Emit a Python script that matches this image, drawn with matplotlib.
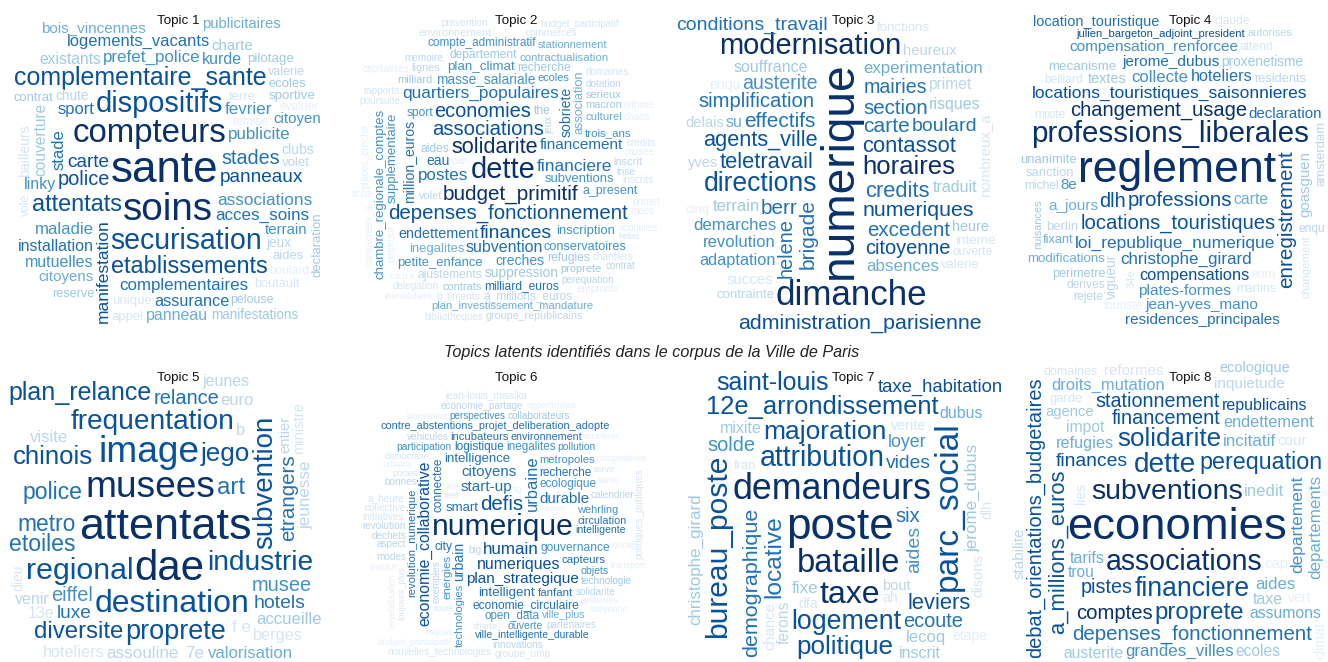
import numpy as np
import matplotlib
matplotlib.use("Agg")
import matplotlib.pyplot as plt
from matplotlib.font_manager import FontProperties

# ---------------------------------------------------------------- data
# weight = topic-word weight (drives text size), shade = specificity level 1..9 (drives colour)
T1_WORDS = ['sante', 'soins', 'compteurs', 'dispositifs', 'securisation', 'complementaire_sante',
            'etablissements', 'attentats', 'panneaux', 'police',
            'stades', 'carte', 'manifestation', 'complementaires', 'acces_soins', 'installation',
            'associations', 'publicite', 'sport', 'maladie',
            'kurde', 'fevrier', 'prefet_police', 'logements_vacants', 'assurance', 'stade',
            'linky', 'mutuelles', 'panneau', 'terrain',
            'bois_vincennes', 'citoyen', 'citoyens', 'existants', 'couverture', 'publicitaires',
            'manifestations', 'declaration', 'charte', 'bailleurs',
            'clubs', 'chute', 'sportive', 'pilotage', 'jeux', 'contrat', 'ecoles', 'aides',
            'pelouse', 'volet',
            'unique', 'valerie', 'reserve', 'boutault', 'terre', 'appel', 'remise', 'evaluer',
            'boulard', 'vole']
T1_WEIGHTS = [44, 38.6, 33, 29, 28.5, 25, 23.5, 23.5, 19, 20,
              19.8, 19, 17.4, 16.9, 17, 16, 17.3, 17, 16.5, 16.7,
              16, 17, 17, 16.5, 16.3, 16.5, 16, 16, 16, 15,
              15.2, 15, 15, 15.6, 15.5, 14.8, 13.5, 13.3, 15, 14,
              14, 13.6, 13.4, 13.4, 13.6, 13, 13, 13, 12.4, 13.3,
              13.3, 12.5, 12.6, 12.6, 13, 13, 12, 12, 12, 12]
T1_SHADES = [9, 9, 9, 8, 8, 8, 8, 8, 8, 8,
             7, 8, 8, 7, 7, 7, 6, 6, 7, 6,
             6, 6, 6, 7, 7, 7, 6, 6, 5, 6,
             5, 6, 5, 4, 4, 5, 4, 4, 4, 2,
             3, 3, 4, 4, 3, 4, 4, 3, 4, 3,
             2, 3, 4, 2, 2, 2, 1, 1, 1, 2]
T1_VERTICAL = {'manifestation', 'stade', 'declaration', 'bailleurs', 'couverture', 'vole'}

T2_WORDS = ['dette', 'budget_primitif', 'solidarite', 'associations', 'depenses_fonctionnement',
            'economies', 'finances', 'quartiers_populaires', 'financiere', 'postes',
            'subvention', 'financement', 'endettement', 'eau', 'sobriete', 'million_euros',
            'creches', 'masse_salariale', 'suppression', 'supplementaire',
            'chambre_regionale_comptes', 'plan_climat', 'inscription', 'subventions',
            'petite_enfance', 'inegalites', 'conservatoires', 'association', 'a_present', 'recherche',
            'aides', 'the', 'sport', 'refugies', 'milliard_euros', 'departement', 'ajustements',
            'a_millions_euros', 'compte_administratif', 'trois_ans',
            'culturel', 'contractualisation', 'plan_investissement_mandature', 'ecoles', 'macron',
            'contrats', 'proprete', 'milliard', 'serieux', 'inscrit',
            'volet', 'lignes', 'stationnement', 'environnement', 'groupe_republicains', 'trise',
            'perequation', 'dotation', 'memoire', 'jeux',
            'contrat', 'budget_participatif', 'chantiers', 'poursuite', 'b_timents', 'domaines',
            'commerces', 'delegation', 'rapports', 'prevention',
            'inscrits', 'bibliotheques', 'credits', 'helas', 'immobiliers', 'scolaires', 'c.a.u.e',
            'musee', 'chaos', 'primet',
            'riche', 'emprunt', 'cap', 'places_creche', 'consacrees_a', 'mees', 'capitalises',
            'rythme', 'emprunts']
T2_WEIGHTS = [29, 20.6, 21.7, 20.3, 20.4, 20, 19.3, 17.3, 17.3, 17,
              16, 15.3, 14.4, 14, 14, 14, 14, 13.7, 13.7, 13.3,
              13.3, 13.4, 13, 13, 13, 13, 12.7, 12.6, 12.4, 12,
              12, 12, 12, 12, 12, 12, 12, 11.9, 11.7, 11.5,
              11.4, 11.4, 11.3, 11, 11, 11, 11, 11, 11, 11,
              11, 11, 11, 11, 10.6, 10, 10, 10, 10, 10,
              9.8, 9.7, 10, 10, 10, 10, 10, 10, 10, 10,
              10, 10, 10, 9, 9.5, 10, 9, 10, 10, 10,
              10, 10, 10, 10, 10, 10, 10, 10, 10]
T2_SHADES = [9, 9, 9, 8, 8, 8, 8, 7, 7, 7,
             7, 7, 7, 7, 7, 7, 6, 6, 4, 6,
             6, 6, 6, 6, 6, 5, 6, 5, 6, 4,
             4, 4, 6, 4, 7, 4, 3, 3, 6, 6,
             5, 5, 5, 6, 4, 4, 4, 4, 4, 3,
             3, 3, 5, 2, 3, 3, 3, 3, 3, 3,
             3, 2, 2, 2, 2, 2, 2, 2, 2, 2,
             2, 2, 2, 2, 1, 1, 1, 1, 1, 1,
             1, 1, 1, 1, 1, 1, 1, 1, 1]
T2_VERTICAL = {'sobriete', 'million_euros', 'supplementaire', 'chambre_regionale_comptes',
               'association', 'emprunt', 'places_creche', 'consacrees_a', 'jeux'}

T3_WORDS = ['numerique', 'dimanche', 'modernisation', 'directions', 'horaires', 'teletravail',
            'contassot', 'agents_ville', 'credits', 'administration_parisienne',
            'numeriques', 'brigade', 'carte', 'effectifs', 'berr', 'section', 'excedent',
            'simplification', 'citoyenne', 'helene',
            'mairies', 'austerite', 'boulard', 'conditions_travail', 'absences', 'demarches',
            'experimentation', 'revolution', 'terrain', 'adaptation',
            'souffrance', 'traduit', 'su', 'risques', 'primet', 'nombreux_a', 'succes', 'heureux',
            'delais', 'yves',
            'heure', 'enqu', 'contrainte', 'fonctions', 'interne', 'cinq', 'valerie', 'ouverte']
T3_WEIGHTS = [46, 35, 29, 26.5, 25.8, 22, 22, 21.8, 22, 21.4,
              21.4, 21, 21, 20.9, 20.6, 20.5, 20.5, 20.3, 20, 20,
              19.6, 19.6, 19.5, 19.5, 17, 16.8, 16.7, 16.6, 16.5, 16.4,
              16, 16, 16, 16, 15.5, 15, 15, 14.8, 14.7, 14.6,
              14.4, 14, 13.3, 13.3, 13.3, 13, 13, 12]
T3_SHADES = [9, 9, 9, 8, 9, 8, 8, 8, 7, 8,
             8, 7, 7, 7, 7, 7, 7, 7, 8, 7,
             7, 6, 7, 7, 5, 6, 5, 6, 4, 6,
             4, 4, 5, 4, 3, 2, 2, 3, 3, 3,
             4, 1, 3, 2, 2, 1, 2, 2]
T3_VERTICAL = {'numerique', 'helene', 'brigade', 'nombreux_a'}

T4_WORDS = ['reglement', 'professions_liberales', 'enregistrement', 'changement_usage',
            'professions', 'locations_touristiques', 'dlh', 'loi_republique_numerique',
            'locations_touristiques_saisonnieres', 'christophe_girard',
            'collecte', 'compensations', 'hoteliers', 'residences_principales',
            'julien_bargeton_adjoint_president', 'carte', 'jerome_dubus', 'plates-formes',
            'compensation_renforcee', 'jean-yves_mano',
            'a_jours', 'declaration', 'goasguen', '8e', 'location_touristique', 'textes', 'vigueur',
            'proxenetisme', 'modifications', 'mecanisme',
            'sanction', 'unanimite', 'berlin', 'amsterdam', 'residents', 'perimetre', 'fixant',
            'michel', 'mixite', 'euro',
            'martins', 'touriste', 'belliard', 'derives', 'attend', 'rejete', 'claude', 'enqu',
            'changement', 'nuisances',
            'autorises', '34e']
T4_WEIGHTS = [44.6, 29.5, 20.7, 20.2, 20.4, 20.3, 20, 17.4, 17.4, 17,
              16.7, 16.4, 16.3, 15.3, 15.2, 15.7, 15.4, 15.4, 15.4, 15.4,
              15.2, 15, 15, 15, 14.5, 14.4, 13.7, 13.6, 13.4, 13.4,
              13, 13, 13, 13, 12.8, 12.6, 12.6, 12, 12, 12,
              12, 12, 12, 12, 12, 12, 12, 12, 11.4, 11,
              11, 11]
T4_SHADES = [9, 9, 8, 9, 8, 8, 8, 7, 8, 7,
             6, 8, 7, 7, 8, 5, 7, 6, 6, 6,
             5, 7, 4, 6, 7, 4, 3, 4, 5, 4,
             3, 4, 3, 3, 3, 4, 5, 3, 2, 1,
             2, 1, 2, 3, 2, 3, 2, 3, 2, 4,
             3, 2]
T4_VERTICAL = {'enregistrement', 'goasguen', 'vigueur', 'amsterdam', 'nuisances', 'changement', '34e'}

T5_WORDS = ['attentats', 'dae', 'musees', 'image', 'destination', 'regional', 'industrie',
            'frequentation', 'subvention', 'proprete',
            'jego', 'chinois', 'plan_relance', 'diversite', 'art', 'police', 'etoiles', 'metro',
            'etrangers', 'eiffel',
            'relance', 'musee', 'hotels', 'luxe', 'f e', '7e', 'assouline', 'jeunesse',
            'valorisation', 'accueille',
            'visite', 'euro', 'hoteliers', 'berges', 'jeunes', 'venir', 'b', '13e', 'entier',
            'ministre',
            'dieu']
T5_WEIGHTS = [45, 42, 37, 37, 32, 30.4, 28, 28, 27.6, 27,
              26, 25.7, 25, 24, 24, 23, 23, 22.8, 20.5, 20,
              20, 20, 19.4, 19, 17, 17, 17, 17, 16.8, 16.7,
              16.7, 16.5, 16.3, 16.3, 16, 16, 16, 16, 14.8, 14.8,
              14]
T5_SHADES = [9, 9, 9, 8, 8, 8, 8, 8, 8, 8,
             8, 8, 8, 8, 7, 7, 7, 7, 7, 6,
             7, 6, 7, 7, 2, 3, 3, 3, 5, 4,
             3, 3, 2, 2, 3, 3, 3, 2, 3, 2,
             2]
T5_VERTICAL = {'subvention', 'etrangers', 'jeunesse', 'entier', 'ministre', 'dieu'}

T6_WORDS = ['numerique', 'defis', 'humain', 'urbaine', 'numeriques', 'economie_collaborative',
            'start-up', 'plan_strategique', 'citoyens', 'durable',
            'urbain', 'intelligent', 'smart', 'intelligence', 'economie_circulaire', 'gouvernance',
            'city', 'connectee', 'ecologique', 'logistique',
            'recherche', 'inegalites', 'open_data', 'capteurs', 'energies', 'fanfant',
            'revolution_numerique', 'technologies', 'incubateurs', 'metropoles',
            'wehrling', 'contre_abstentions_projet_deliberation_adopte', 'environnement',
            'circulation', 'intelligente', 'ouverte', 'ville_plus', 'objets',
            'ville_intelligente_durable', 'participation',
            'pollution', 'perspectives', 'collaborateurs', 'technologie', 'calendrier', 'solidarite',
            'partenaires', 'innovations', 'dechets', 'aspect',
            'bonnes', 'economie_partage', 'vehicules', 'revolution', 'big', 'modes', 'exemples',
            'initiatives', 'collective', 'groupe_ump',
            'a_heure', 'jean-louis_missika', 'nouvelles_technologies', 'politiques_publiques',
            'charte', 'reel', 'democratie', 'route', 'portes', 'servir',
            'toujours_plus', 'systemes', 'sante', 'risques', 'urbains', 'opportunites',
            'competitivite', 'institut', 'lire', 'siecle',
            'transport', 'citoyenne', 'budget_participatif', 'vegetalisation', 'sg', 'lancement',
            'accelerer', 'modele']
T6_WEIGHTS = [30, 20.5, 17, 16.5, 16, 15.8, 15.3, 15.2, 15, 15,
              14, 13.4, 13.3, 13.1, 12, 12, 12, 11.8, 11.7, 11.7,
              11.7, 11.7, 11.6, 11.5, 11.5, 11.5, 11.3, 11.3, 11.3, 11.2,
              11, 10.9, 10.8, 10.7, 10.5, 10.5, 10.5, 10.5, 10.4, 10.3,
              10.3, 10, 10, 10, 10, 10, 10, 10, 10, 10,
              10, 10, 10, 10, 10, 10, 10, 10, 10, 10,
              10, 10, 10, 10, 9, 9, 9, 9, 9, 9,
              9, 9, 9, 9, 9, 9, 9, 9, 9, 9,
              9, 9, 9, 9, 9, 9, 9, 8]
T6_SHADES = [9, 8, 8, 7, 8, 8, 7, 8, 7, 7,
             7, 7, 7, 7, 7, 6, 7, 7, 6, 7,
             7, 6, 6, 7, 6, 7, 7, 6, 7, 6,
             6, 7, 7, 7, 7, 6, 5, 6, 7, 6,
             6, 6, 4, 4, 3, 3, 3, 3, 3, 3,
             3, 3, 3, 3, 3, 3, 3, 2, 2, 2,
             2, 2, 2, 2, 2, 2, 2, 2, 2, 2,
             2, 1, 1, 1, 1, 1, 1, 1, 1, 1,
             1, 1, 1, 1, 1, 1, 1, 1]
T6_VERTICAL = {'economie_collaborative', 'urbaine', 'technologies', 'revolution_numerique',
               'connectee', 'urbain', 'energies', 'exemples', 'toujours_plus',
               'politiques_publiques', 'vegetalisation'}

T7_WORDS = ['poste', 'demandeurs', 'parc_social', 'bataille', 'taxe', 'bureau_poste',
            'attribution', 'logement', 'majoration', 'politique',
            '12e_arrondissement', 'saint-louis', 'locative', 'taxe_habitation', 'leviers',
            'demographique', 'six', 'ecoute', 'solde', 'aides',
            'vides', 'loyer', 'jerome_dubus', 'christophe_girard', 'fixe', 'lecoq', 'mixite',
            'inscrit', 'dubus', 'ferons',
            'chance', 'disons', 'bout', 'verite', 'dfa', 'dlh', 'ah', 'etape', 'fran']
T7_WEIGHTS = [44, 35.7, 33.6, 32.7, 32, 30, 28.5, 26.7, 26.4, 26,
              25.5, 25, 24.5, 24, 21.9, 21.5, 20, 20, 20, 19.5,
              19.3, 17.7, 17, 17, 17, 16.7, 16, 16, 15.9, 15.5,
              14.7, 14.7, 14.6, 14.3, 14, 14, 14, 14, 13]
T7_SHADES = [9, 9, 8, 9, 9, 8, 8, 8, 8, 8,
             8, 8, 7, 8, 8, 7, 7, 7, 6, 6,
             7, 6, 4, 4, 4, 4, 4, 4, 5, 3,
             2, 2, 3, 2, 2, 2, 2, 1, 2]
T7_VERTICAL = {'parc_social', 'bureau_poste', 'locative', 'demographique', 'aides',
               'jerome_dubus', 'christophe_girard', 'ferons', 'chance', 'disons', 'dlh'}

T8_WORDS = ['economies', 'associations', 'subventions', 'dette', 'financiere', 'solidarite',
            'proprete', 'perequation', 'a_millions_euros', 'depenses_fonctionnement',
            'comptes', 'debat_orientations_budgetaires', 'financement', 'stationnement', 'pistes',
            'finances', 'departement', 'departements', 'incitatif', 'grandes_villes',
            'inedit', 'aides', 'droits_mutation', 'refugies', 'endettement', 'republicains',
            'tarifs', 'taxe', 'assumons', 'impot',
            'ecoles', 'austerite', 'trou', 'stabilite', 'inquietude', 'reformes', 'cap', 'cour',
            'agence', 'ecologique',
            'lies', 'climat', 'vert', 'garde', 'domaines']
T8_WEIGHTS = [45.5, 28.5, 28.4, 28, 26.5, 26, 24, 23.3, 22, 20.5,
              20.3, 20, 19.9, 19.8, 19.8, 19.3, 17.4, 17, 17, 16.9,
              16.7, 16.7, 16.5, 16.3, 16.2, 16, 16, 15.9, 15.8, 15.7,
              15.6, 15.6, 15.5, 15.3, 15.2, 15, 15, 15, 14.7, 14.5,
              14, 14, 14, 13, 12.5]
T8_SHADES = [9, 9, 9, 8, 8, 8, 8, 8, 8, 7,
             9, 8, 8, 8, 8, 8, 6, 5, 5, 6,
             4, 5, 5, 5, 5, 8, 5, 4, 5, 4,
             4, 4, 5, 3, 3, 2, 1, 2, 4, 4,
             2, 1, 1, 2, 2]
T8_VERTICAL = {'a_millions_euros', 'debat_orientations_budgetaires', 'departement',
               'departements', 'stabilite', 'lies', 'climat'}

TOPIC_LABELS = ['Topic 1', 'Topic 2', 'Topic 3', 'Topic 4',
                'Topic 5', 'Topic 6', 'Topic 7', 'Topic 8']
MAIN_TITLE = 'Topics latents identifiés dans le corpus de la Ville de Paris'

TOPICS = [(T1_WORDS, T1_WEIGHTS, T1_SHADES, T1_VERTICAL),
          (T2_WORDS, T2_WEIGHTS, T2_SHADES, T2_VERTICAL),
          (T3_WORDS, T3_WEIGHTS, T3_SHADES, T3_VERTICAL),
          (T4_WORDS, T4_WEIGHTS, T4_SHADES, T4_VERTICAL),
          (T5_WORDS, T5_WEIGHTS, T5_SHADES, T5_VERTICAL),
          (T6_WORDS, T6_WEIGHTS, T6_SHADES, T6_VERTICAL),
          (T7_WORDS, T7_WEIGHTS, T7_SHADES, T7_VERTICAL),
          (T8_WORDS, T8_WEIGHTS, T8_SHADES, T8_VERTICAL)]

# ---------------------------------------------------------------- style
W, H, DPI = 1328, 662, 100
FONT = 'Liberation Sans'
PX_PER_WEIGHT = 1.0
BLUES = ['#E6EFF9', '#D6E6F4', '#BCD6EC', '#9ECAE1', '#6BAED6',
         '#4292C6', '#2171B5', '#08519C', '#08306B']
COL_X = [165, 503, 840, 1177]
ROW_Y = [170, 527]
HALF = 158.0
TURN_GAP = 4.0   # radial growth per spiral turn (px)
ARC_STEP = 1.5   # spacing of candidate points along the spiral (px)
ASC = 0.74       # box height above baseline (em)
DESC_TAIL = 0.21  # box depth below baseline for words with descenders (em)
DESC_PLAIN = 0.13  # box depth below baseline otherwise (em, small words)
BIG_PX = 23.0     # from this size on, every word keeps the full descent
TAILS = set('gjpqy,')

fig = plt.figure(figsize=(W / DPI, H / DPI), dpi=DPI)
ax = fig.add_axes([0, 0, 1, 1])
ax.set_xlim(0, W)
ax.set_ylim(H, 0)
ax.axis('off')
renderer = fig.canvas.get_renderer()

LABEL_PROP = FontProperties(family=FONT, size=9.6)

# fine Archimedean spiral of candidate centres (r = b * theta)
_b = TURN_GAP / (2 * np.pi)
_rmax = 1.5 * HALF
_smax = _b * (_rmax / _b) ** 2 / 2
_s = np.arange(0, _smax, ARC_STEP)
SPIRAL_T = np.sqrt(2 * _s / _b)
SPIRAL_R = _b * SPIRAL_T
CHUNK = 2500


def text_box(word, px):
    prop = FontProperties(family=FONT, size=px * 72.0 / DPI)
    tw, th, td = renderer.get_text_width_height_descent(word, prop, ismath=False)
    d = DESC_TAIL if (set(word) & TAILS or px >= BIG_PX) else DESC_PLAIN
    return prop, tw, ASC * px, d * px


def find_spot(bw, bh, cx, cy, offset, placed, bounds):
    left, right, top, bottom = bounds
    xs = cx + SPIRAL_R * np.cos(SPIRAL_T + offset)
    ys = cy + SPIRAL_R * np.sin(SPIRAL_T + offset)
    inb = ((xs - bw / 2 > left) & (xs + bw / 2 < right) &
           (ys - bh / 2 > top) & (ys + bh / 2 < bottom))
    idx = np.nonzero(inb)[0]
    for c0 in range(0, len(idx), CHUNK):
        sub = idx[c0:c0 + CHUNK]
        x1 = xs[sub] - bw / 2
        x2 = xs[sub] + bw / 2
        y1 = ys[sub] - bh / 2
        y2 = ys[sub] + bh / 2
        ov = ((x1[:, None] < placed[None, :, 2]) & (x2[:, None] > placed[None, :, 0]) &
              (y1[:, None] < placed[None, :, 3]) & (y2[:, None] > placed[None, :, 1])).any(1)
        free = np.nonzero(~ov)[0]
        if len(free):
            j = sub[free[0]]
            return xs[j], ys[j]
    return None


def layout_and_draw(words, weights, shades, vertical, cx, cy, seed_offset, obstacles):
    assert len(words) == len(weights) == len(shades)
    order = np.argsort(-np.asarray(weights, dtype=float), kind='stable')
    placed = np.asarray(obstacles, dtype=float).reshape(-1, 4)
    for n, i in enumerate(order):
        word = words[i]
        px = weights[i] * PX_PER_WEIGHT
        rot = word in vertical
        spot = None
        grow = 0.0
        while spot is None and px >= 6:
            bounds = (max(cx - HALF - grow, 2), min(cx + HALF + grow, W - 2),
                      max(cy - HALF - grow, 2), min(cy + HALF + grow, H - 2))
            prop, tw, a, d = text_box(word, px)
            bw, bh = tw + 1.0, a + d
            if rot:
                bw, bh = bh, bw
            spot = find_spot(bw, bh, cx, cy, seed_offset + n * 2.39996, placed, bounds)
            if spot is None:
                if grow < 10:
                    grow += 2.5
                else:
                    px *= 0.95
        if spot is None:
            continue
        x, y = spot
        placed = np.vstack([placed, [x - bw / 2, y - bh / 2, x + bw / 2, y + bh / 2]])
        color = BLUES[int(shades[i]) - 1]
        if rot:
            ax.text(x + (a - d) / 2, y, word, rotation=90, rotation_mode='anchor',
                    ha='center', va='baseline', fontproperties=prop, color=color)
        else:
            ax.text(x, y + (a - d) / 2, word, ha='center', va='baseline',
                    fontproperties=prop, color=color)


for t, (words, weights, shades, vertical) in enumerate(TOPICS):
    cx = COL_X[t % 4]
    cy = ROW_Y[t // 4]
    lx, ly = cx + 13, cy - 149
    lw, _, _ = renderer.get_text_width_height_descent(TOPIC_LABELS[t], LABEL_PROP, ismath=False)
    obstacle = [lx - lw / 2 - 2, ly - 8, lx + lw / 2 + 2, ly + 8]
    layout_and_draw(words, weights, shades, vertical, cx, cy, 0.7 * t, [obstacle])
    ax.text(lx, ly, TOPIC_LABELS[t], ha='center', va='center',
            fontproperties=LABEL_PROP, color='#111111', zorder=5)

ax.text(652, 352, MAIN_TITLE, ha='center', va='center', fontsize=11.6, family=FONT,
        style='italic', color='#222222', zorder=5)

fig.savefig('out.png', dpi=DPI)
